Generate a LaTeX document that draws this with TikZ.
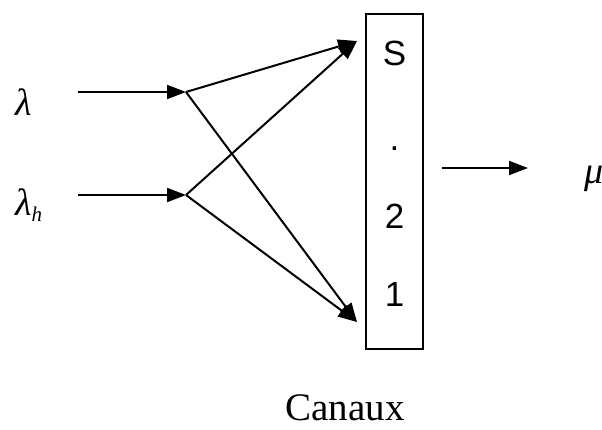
\documentclass[tikz,border=0pt]{standalone}
\usepackage{fontspec}
\setmainfont{Liberation Serif}
\newfontfamily\chanfont{Liberation Sans}
\usetikzlibrary{arrows.meta}
\tikzset{
  flow/.style={line width=2pt,-{Triangle[length=19pt,width=14pt]}},
  rate/.style={inner sep=0pt,anchor=base west,font=\fontsize{38}{40}\selectfont\itshape},
  chan/.style={inner sep=0pt,anchor=base,font=\fontsize{35}{38}\selectfont\chanfont}
}

\begin{document}
\begin{tikzpicture}[x=1pt,y=-1pt]
    \useasboundingbox (0,0) rectangle (602,429);
    % arrival rates
    \node[rate](lam) at (15,115){λ};
    \node[rate](lamh) at (15,215){λ\textsubscript{\fontsize{21}{23}\selectfont h}};
    \coordinate (lin) at (78,92);
    \coordinate (lhin) at (78,195);
    \coordinate (j1) at (186,92);
    \coordinate (j2) at (186,195);
    \coordinate (top) at (357,41);
    \coordinate (bot) at (357,322);
    % the channels
    \node[draw,line width=1.8pt,minimum width=57pt,minimum height=335pt,inner sep=0pt](box) at (394.5,181.5){};
    \node[chan](cs) at (394.5,65){S};
    \node[chan](cdot) at (394.5,150){.};
    \node[chan](c2) at (394.5,228){2};
    \node[chan](c1) at (394.5,306){1};
    \coordinate (out0) at (442,168);
    \coordinate (out1) at (528,168);
    \node[rate](mu) at (584,183){μ};
    \node[inner sep=0pt,anchor=base,font=\fontsize{39}{42}\selectfont](lbl) at (345,420){Canaux};

    \draw[flow] (lin) -- (j1);
    \draw[flow] (lhin) -- (j2);
    \draw[flow] (j1) -- (top);
    \draw[flow] (j1) -- (bot);
    \draw[flow] (j2) -- (top);
    \draw[flow] (j2) -- (bot);
    \draw[flow] (out0) -- (out1);
\end{tikzpicture}
\end{document}
